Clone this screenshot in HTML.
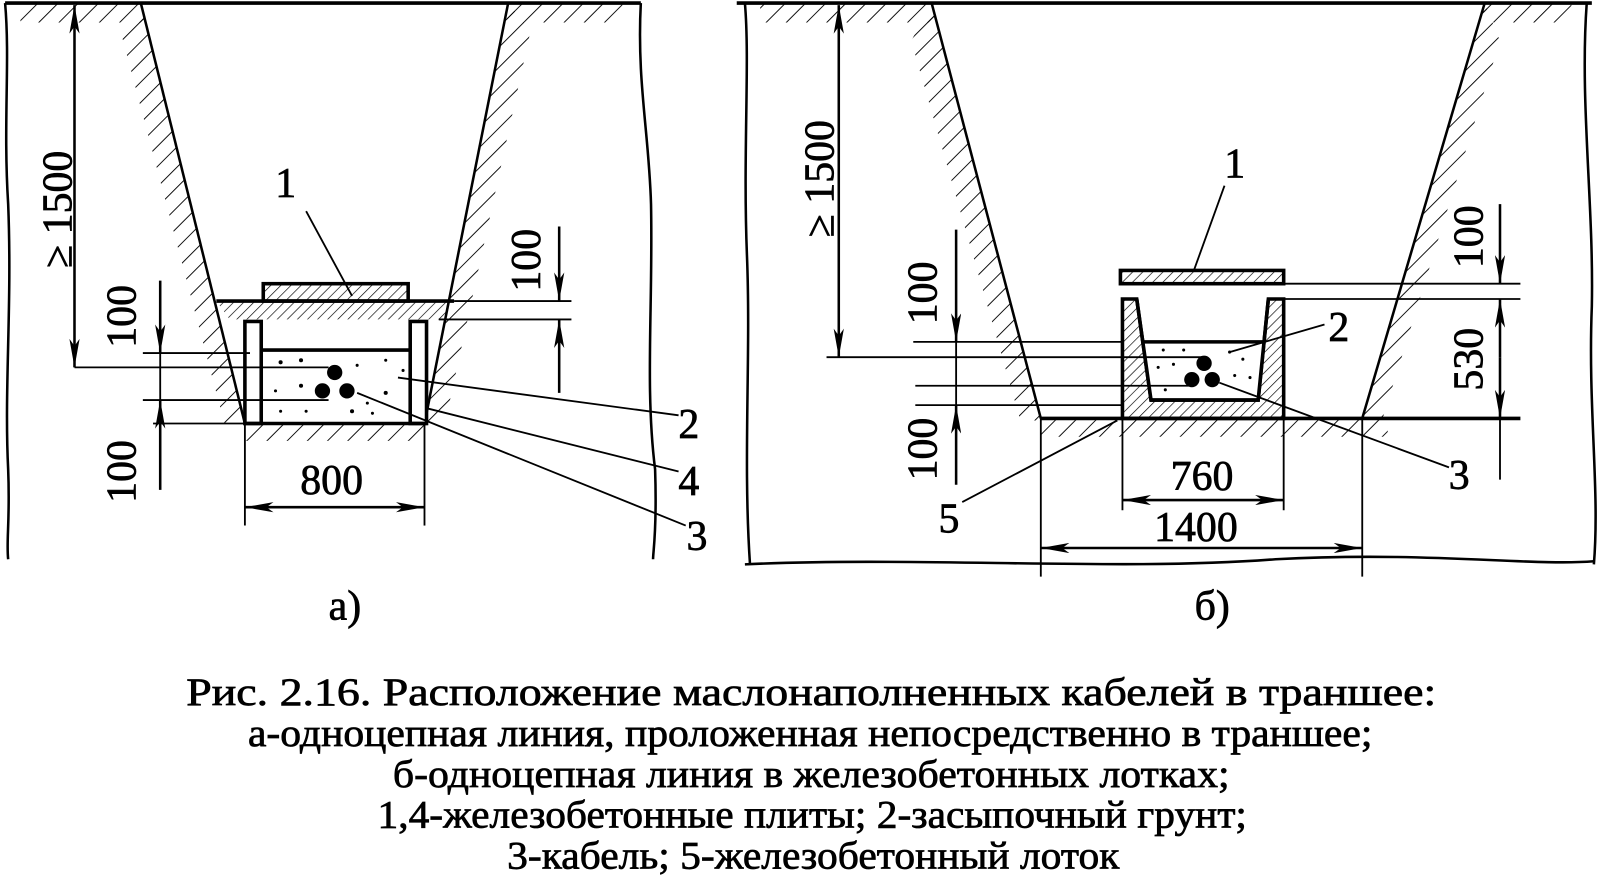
<!DOCTYPE html>
<html><head><meta charset="utf-8"><style>
html,body{margin:0;padding:0;background:#fff;}
svg{display:block}
text{font-family:"Liberation Serif",serif;fill:#000;stroke:#000;stroke-width:0.7}
</style></head><body>
<svg width="1600" height="896" viewBox="0 0 1568 878" preserveAspectRatio="none" xmlns="http://www.w3.org/2000/svg">
<defs>
<pattern id="h" width="14" height="14" patternUnits="userSpaceOnUse" patternTransform="rotate(45)">
<line x1="0" y1="0" x2="0" y2="14" stroke="#000" stroke-width="1.8"/></pattern>
<pattern id="hs" width="7" height="7" patternUnits="userSpaceOnUse" patternTransform="rotate(45)">
<line x1="0" y1="0" x2="0" y2="7" stroke="#000" stroke-width="1.3"/></pattern>
<marker id="a" viewBox="0 0 28 10" refX="28" refY="5" markerWidth="28" markerHeight="10" markerUnits="userSpaceOnUse" orient="auto-start-reverse"><path d="M0,0 L28,5 L0,10 L7,5z" fill="#000"/></marker>
</defs>
<g stroke="#000" fill="none" stroke-width="2.5">
<path d="M5,3 L628,3" stroke-width="3.5"/>
<path d="M5,3 C10,60 3,120 8,200 C12,300 4,380 8,460 C10,510 6,530 8,548" />
<path d="M628,3 C624,80 636,130 638,200 C640,300 632,380 642,460 C644,520 640,540 640,548"/>
<path d="M20,3 L138,3 L142,22 L20,22z M500,3 L610,3 L610,22 L496,22z" fill="url(#h)" stroke="none"/>
<path d="M138,3 L240,415 L220,415 L118,30z" fill="url(#h)" stroke="none"/>
<path d="M498,3 L416,415 L436,415 L520,30z" fill="url(#h)" stroke="none"/>
<path d="M240,415 L416,415 L416,432 L240,432z" fill="url(#h)" stroke="none"/>
<path d="M212,295 L445,295 L432,313 L225,313z" fill="url(#hs)" stroke="none"/>
<line x1="138" y1="3" x2="240" y2="415"/>
<line x1="498" y1="3" x2="416" y2="415"/>
<line x1="212" y1="295" x2="445" y2="295" stroke-width="3.5"/>
<rect x="258" y="278" width="142" height="17" fill="url(#hs)" stroke-width="3.5"/>
<rect x="240" y="315" width="16" height="100" fill="#fff" stroke-width="3.5"/>
<rect x="402" y="315" width="16" height="100" fill="#fff" stroke-width="3.5"/>
<line x1="256" y1="343" x2="402" y2="343" stroke-width="3.5"/>
<line x1="240" y1="415" x2="418" y2="415" stroke-width="3.5"/>
<g fill="#000" stroke="none">
<circle cx="328" cy="365" r="7.5"/><circle cx="316" cy="383" r="7.5"/><circle cx="340" cy="383" r="7.5"/>
<circle cx="275" cy="355" r="2"/><circle cx="295" cy="353" r="2"/><circle cx="350" cy="358" r="1.5"/><circle cx="378" cy="353" r="1.5"/><circle cx="270" cy="383" r="1.5"/><circle cx="295" cy="378" r="2"/><circle cx="378" cy="385" r="2"/><circle cx="360" cy="395" r="1.5"/><circle cx="275" cy="403" r="1.5"/><circle cx="300" cy="403" r="1.5"/><circle cx="345" cy="403" r="2"/><circle cx="365" cy="405" r="1.5"/><circle cx="395" cy="363" r="1.5"/>
</g>
<line x1="73" y1="5" x2="73" y2="360" marker-start="url(#a)" marker-end="url(#a)"/>
<line x1="73" y1="360" x2="322" y2="360" stroke-width="1.8"/>
<line x1="157" y1="275" x2="157" y2="346" marker-end="url(#a)"/>
<line x1="157" y1="480" x2="157" y2="392" marker-end="url(#a)"/>
<line x1="157" y1="346" x2="157" y2="392" stroke-width="1.8"/>
<line x1="140" y1="346" x2="245" y2="346" stroke-width="1.8"/>
<line x1="140" y1="392" x2="322" y2="392" stroke-width="1.8"/>
<line x1="150" y1="415" x2="240" y2="415" stroke-width="1.8"/>
<line x1="548" y1="222" x2="548" y2="295" marker-end="url(#a)"/>
<line x1="548" y1="385" x2="548" y2="313" marker-end="url(#a)"/>
<line x1="445" y1="295" x2="560" y2="295" stroke-width="1.8"/>
<line x1="430" y1="313" x2="560" y2="313" stroke-width="1.8"/>
<line x1="240" y1="415" x2="240" y2="515" stroke-width="1.8"/>
<line x1="416" y1="415" x2="416" y2="515" stroke-width="1.8"/>
<line x1="240" y1="497" x2="416" y2="497" marker-start="url(#a)" marker-end="url(#a)"/>
<g stroke-width="1.8">
<line x1="300" y1="207" x2="345" y2="290"/>
<line x1="665" y1="407" x2="390" y2="370"/>
<line x1="665" y1="462" x2="418" y2="400"/>
<line x1="672" y1="515" x2="350" y2="385"/>
</g>

<path d="M722,3 L1560,3" stroke-width="3.5"/>
<path d="M730,3 C735,60 728,150 732,250 C736,350 728,450 735,553"/>
<path d="M1555,3 C1548,100 1562,200 1560,300 C1556,400 1568,480 1562,553"/>
<path d="M730,553 C900,545 1100,560 1250,548 C1400,540 1500,555 1562,550"/>
<path d="M745,3 L913,3 L918,22 L745,22z M1455,3 L1540,3 L1540,22 L1452,22z" fill="url(#h)" stroke="none"/>
<path d="M913,3 L1020,412 L1000,412 L893,40z" fill="url(#h)" stroke="none"/>
<path d="M1455,3 L1335,410 L1355,410 L1470,40z" fill="url(#h)" stroke="none"/>
<path d="M1020,410 L1360,410 L1360,428 L1020,428z" fill="url(#h)" stroke="none"/>
<line x1="913" y1="3" x2="1020" y2="410"/>
<line x1="1455" y1="3" x2="1335" y2="410"/>
<line x1="1020" y1="410" x2="1490" y2="410" stroke-width="3.5"/>
<rect x="1098" y="265" width="160" height="13" fill="url(#hs)" stroke-width="3.5"/>
<path d="M1100,293 L1114,293 L1128,392 L1233,392 L1243,293 L1258,293 L1258,410 L1100,410z" fill="url(#hs)" stroke-width="3.5"/>
<path d="M1120,335 L1240,335 L1234,390 L1128,390z" fill="#fff" stroke="none"/>
<path d="M1114,293 L1128,392 L1233,392 L1243,293" fill="none" stroke-width="3.5"/>
<line x1="1120" y1="335" x2="1240" y2="335" stroke-width="3.5"/>
<g fill="#000" stroke="none">
<circle cx="1180" cy="356" r="7.5"/><circle cx="1168" cy="372" r="7.5"/><circle cx="1188" cy="372" r="7.5"/>
<circle cx="1140" cy="343" r="1.5"/><circle cx="1160" cy="343" r="1.5"/><circle cx="1205" cy="345" r="1.5"/><circle cx="1218" cy="352" r="1.5"/><circle cx="1135" cy="360" r="1.5"/><circle cx="1150" cy="357" r="1.5"/><circle cx="1142" cy="382" r="1.5"/><circle cx="1210" cy="368" r="1.5"/><circle cx="1225" cy="370" r="1.5"/>
</g>
<line x1="822" y1="5" x2="822" y2="350" marker-start="url(#a)" marker-end="url(#a)"/>
<line x1="810" y1="350" x2="1180" y2="350" stroke-width="1.8"/>
<line x1="937" y1="225" x2="937" y2="335" marker-end="url(#a)"/>
<line x1="937" y1="475" x2="937" y2="397" marker-end="url(#a)"/>
<line x1="937" y1="335" x2="937" y2="397" stroke-width="1.8"/>
<line x1="895" y1="335" x2="1100" y2="335" stroke-width="1.8"/>
<line x1="897" y1="378" x2="1165" y2="378" stroke-width="1.8"/>
<line x1="897" y1="397" x2="1100" y2="397" stroke-width="1.8"/>
<line x1="1470" y1="200" x2="1470" y2="278" marker-end="url(#a)"/>
<line x1="1470" y1="350" x2="1470" y2="293" marker-end="url(#a)"/>
<line x1="1470" y1="350" x2="1470" y2="410" marker-end="url(#a)"/>
<line x1="1470" y1="410" x2="1470" y2="470" stroke-width="1.8"/>
<line x1="1258" y1="278" x2="1490" y2="278" stroke-width="1.8"/>
<line x1="1258" y1="293" x2="1490" y2="293" stroke-width="1.8"/>
<line x1="1100" y1="410" x2="1100" y2="500" stroke-width="1.8"/>
<line x1="1258" y1="410" x2="1258" y2="500" stroke-width="1.8"/>
<line x1="1100" y1="490" x2="1258" y2="490" marker-start="url(#a)" marker-end="url(#a)"/>
<line x1="1020" y1="410" x2="1020" y2="565" stroke-width="1.8"/>
<line x1="1335" y1="410" x2="1335" y2="565" stroke-width="1.8"/>
<line x1="1020" y1="537" x2="1335" y2="537" marker-start="url(#a)" marker-end="url(#a)"/>
<g stroke-width="1.8">
<line x1="1200" y1="182" x2="1170" y2="265"/>
<line x1="1298" y1="318" x2="1205" y2="345"/>
<line x1="1420" y1="458" x2="1195" y2="375"/>
<line x1="943" y1="492" x2="1095" y2="412"/>
</g>
</g>
<g font-size="41">
<text x="280" y="193" text-anchor="middle">1</text>
<text x="675" y="429" text-anchor="middle">2</text>
<text x="675" y="485" text-anchor="middle">4</text>
<text x="683" y="539" text-anchor="middle">3</text>
<text x="325" y="484" text-anchor="middle">800</text>
<text transform="translate(70,205) rotate(-90)" text-anchor="middle">≥ 1500</text>
<text transform="translate(133,310) rotate(-90)" text-anchor="middle">100</text>
<text transform="translate(133,462) rotate(-90)" text-anchor="middle">100</text>
<text transform="translate(529,255) rotate(-90)" text-anchor="middle">100</text>
<text x="338" y="607" text-anchor="middle">а)</text>
<text x="1210" y="174" text-anchor="middle">1</text>
<text x="1312" y="334" text-anchor="middle">2</text>
<text x="1430" y="479" text-anchor="middle">3</text>
<text x="930" y="522" text-anchor="middle">5</text>
<text x="1178" y="480" text-anchor="middle">760</text>
<text x="1172" y="530" text-anchor="middle">1400</text>
<text transform="translate(817,175) rotate(-90)" text-anchor="middle">≥ 1500</text>
<text transform="translate(918,287) rotate(-90)" text-anchor="middle">100</text>
<text transform="translate(918,440) rotate(-90)" text-anchor="middle">100</text>
<text transform="translate(1453,232) rotate(-90)" text-anchor="middle">100</text>
<text transform="translate(1453,352) rotate(-90)" text-anchor="middle">530</text>
<text x="1188" y="607" text-anchor="middle">б)</text>
</g>
<g font-size="38" text-anchor="middle">
<text x="795" y="691" textLength="1225" lengthAdjust="spacingAndGlyphs">Рис. 2.16. Расположение маслонаполненных кабелей в траншее:</text>
<text x="794" y="731" textLength="1102" lengthAdjust="spacingAndGlyphs">а-одноцепная линия, проложенная непосредственно в траншее;</text>
<text x="795" y="771" textLength="820" lengthAdjust="spacingAndGlyphs">б-одноцепная линия в железобетонных лотках;</text>
<text x="796" y="811" textLength="852" lengthAdjust="spacingAndGlyphs">1,4-железобетонные плиты; 2-засыпочный грунт;</text>
<text x="797" y="851" textLength="600" lengthAdjust="spacingAndGlyphs">3-кабель; 5-железобетонный лоток</text>
</g>
</svg>
</body></html>
